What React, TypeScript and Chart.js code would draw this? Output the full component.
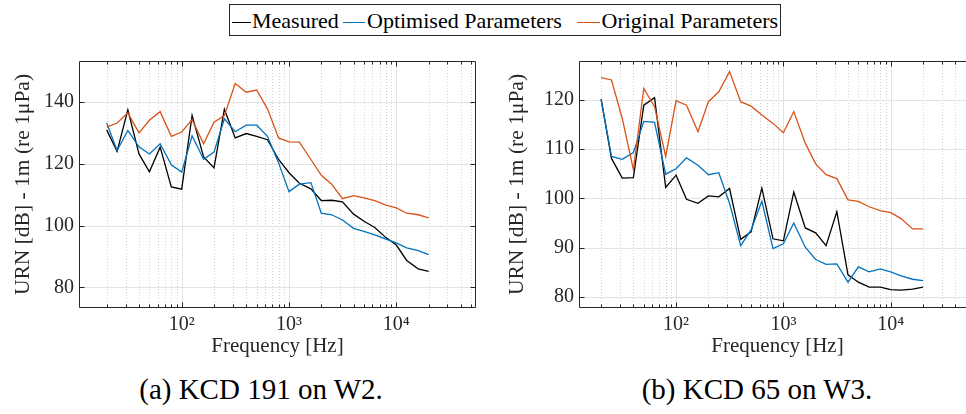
import React, { useEffect, useRef } from "react";
import { Chart, registerables } from "chart.js";

Chart.register(...registerables);

// ---------- data ----------
const frequencies = [20, 25, 31.5, 40, 50, 63, 80, 100, 125, 160, 200, 250, 315, 400, 500, 630, 800, 1000, 1250, 1600, 2000, 2500, 3150, 4000, 5000, 6300, 8000, 10000, 12500, 16000, 20000];

const measuredA = [131, 124, 137.5, 123.2, 117.4, 125.4, 112.5, 111.8, 135.7, 122.2, 118.7, 137.7, 128.4, 129.8, 128.9, 127.8, 121.4, 117.1, 113.7, 111.9, 108.1, 108.2, 107.7, 103.7, 101.4, 99.4, 96.1, 93.7, 88.7, 86, 85.2];
const optimisedA = [133.2, 124.3, 130.8, 125.5, 123.2, 126.5, 119.7, 117.3, 129.1, 121.5, 123.8, 134.6, 130.4, 132.5, 132.5, 128.9, 120.3, 111, 113.4, 113.9, 104, 103.5, 101.8, 99.1, 98.1, 97, 95.6, 94.4, 92.8, 91.9, 90.6];
const originalA = [131.9, 133.2, 136.5, 130, 134.1, 136.9, 128.9, 130.3, 134.3, 126.5, 133.5, 135.6, 146, 143.2, 143.9, 137.8, 128.4, 127.1, 127, 121.4, 116.3, 113.4, 108.7, 109.7, 109, 108.1, 106.6, 105.7, 104, 103.5, 102.5];

const measuredB = [120.1, 108.1, 104.1, 104.2, 118.9, 120.4, 102.2, 104.7, 99.8, 99, 100.5, 100.3, 102, 91.7, 93.2, 102.1, 91.8, 91.4, 101.3, 94, 93, 90.4, 97.3, 84.5, 83, 82, 82, 81.5, 81.4, 81.6, 82];
const optimisedB = [120.1, 108.5, 107.9, 109.3, 115.6, 115.4, 104.9, 106, 108.2, 106.7, 104.8, 105.2, 99, 90.4, 93.6, 99.4, 89.8, 90.8, 95, 90.1, 87.6, 86.6, 86.7, 83, 86.1, 85.1, 85.7, 85.1, 84.3, 83.6, 83.3];
const originalB = [124.5, 124, 116.2, 105.8, 122.3, 118.6, 108.5, 119.8, 118.9, 113.5, 119.6, 121.6, 125.7, 119.6, 118.7, 116.9, 115.2, 113.3, 117.6, 111.2, 107, 104.8, 104, 99.7, 99.4, 98.3, 97.5, 97.1, 95.9, 93.8, 93.8];

const yTicksA = [80, 100, 120, 140];
const yTicksB = [80, 90, 100, 110, 120];
const xMajorTicks = [100, 1000, 10000];
const xTickLabels = ["10²", "10³", "10⁴"];
const legendLabels = ["Measured", "Optimised Parameters", "Original Parameters"];
const seriesColors = ["#000000", "#0072BD", "#D95319"];
const yTitle = "URN [dB] - 1m (re 1μPa)";
const xTitle = "Frequency [Hz]";
const captions = ["(a) KCD 191 on W2.", "(b) KCD 65 on W3."];

// ---------- style ----------
const FONT = "'Liberation Serif', 'DejaVu Serif', 'Noto Serif', serif";
const AXIS = "#262626";

function minorValues(min: number, max: number): number[] {
  const out: number[] = [];
  for (let e = Math.floor(Math.log10(min)); e <= Math.ceil(Math.log10(max)); e++) {
    for (let k = 2; k <= 9; k++) {
      const v = k * Math.pow(10, e);
      if (v > min && v < max) out.push(v);
    }
  }
  return out;
}

const matlabAxes = {
  id: "matlabAxes",
  beforeDatasetsDraw(chart: any) {
    const { ctx, chartArea: a, scales } = chart;
    const xs = scales.x;
    const ys = scales.y;
    ctx.save();
    ctx.lineWidth = 1;
    ctx.strokeStyle = "#d2d2d2";
    ctx.setLineDash([1, 2]);
    for (const v of minorValues(xs.min, xs.max)) {
      const px = Math.round(xs.getPixelForValue(v)) + 0.5;
      ctx.beginPath();
      ctx.moveTo(px, a.top);
      ctx.lineTo(px, a.bottom);
      ctx.stroke();
    }
    ctx.setLineDash([]);
    ctx.strokeStyle = "#e2e2e2";
    for (const v of xMajorTicks) {
      const px = Math.round(xs.getPixelForValue(v)) + 0.5;
      ctx.beginPath();
      ctx.moveTo(px, a.top);
      ctx.lineTo(px, a.bottom);
      ctx.stroke();
    }
    for (const t of ys.ticks) {
      const py = Math.round(ys.getPixelForValue(t.value)) + 0.5;
      ctx.beginPath();
      ctx.moveTo(a.left, py);
      ctx.lineTo(a.right, py);
      ctx.stroke();
    }
    ctx.restore();
  },
  afterDatasetsDraw(chart: any) {
    const { ctx, chartArea: a, scales } = chart;
    const xs = scales.x;
    const ys = scales.y;
    const L = Math.round(a.left) + 0.5;
    const R = Math.round(a.right) - 0.5;
    const T = Math.round(a.top) + 0.5;
    const B = Math.round(a.bottom) - 0.5;
    ctx.save();
    ctx.strokeStyle = AXIS;
    ctx.lineWidth = 1;
    ctx.beginPath();
    ctx.moveTo(L, T);
    ctx.lineTo(R, T);
    ctx.lineTo(R, B);
    ctx.lineTo(L, B);
    ctx.closePath();
    ctx.stroke();
    const tick = (v: number, len: number) => {
      const px = Math.round(xs.getPixelForValue(v)) + 0.5;
      ctx.beginPath();
      ctx.moveTo(px, B);
      ctx.lineTo(px, B - len);
      ctx.moveTo(px, T);
      ctx.lineTo(px, T + len);
      ctx.stroke();
    };
    for (const v of minorValues(xs.min, xs.max)) tick(v, 3);
    for (const v of xMajorTicks) tick(v, 5);
    for (const t of ys.ticks) {
      const py = Math.round(ys.getPixelForValue(t.value)) + 0.5;
      ctx.beginPath();
      ctx.moveTo(L, py);
      ctx.lineTo(L + 5, py);
      ctx.moveTo(R, py);
      ctx.lineTo(R - 5, py);
      ctx.stroke();
    }
    ctx.restore();
  },
};

type PanelCfg = {
  series: number[][];
  yTicks: number[];
  yMin: number;
  yMax: number;
  xMin: number;
  xMax: number;
  titlePad: number;
};

function buildConfig(p: PanelCfg): any {
  return {
    type: "line",
    data: {
      datasets: p.series.map((vals, i) => ({
        label: legendLabels[i],
        data: frequencies.map((f, j) => ({ x: f, y: vals[j] })),
        borderColor: seriesColors[i],
        backgroundColor: seriesColors[i],
        borderWidth: 1.3,
        pointRadius: 0,
        tension: 0,
        fill: false,
        order: 2 - i,
      })),
    },
    options: {
      animation: false,
      responsive: false,
      maintainAspectRatio: false,
      events: [],
      layout: { padding: { top: 61, right: 14, bottom: 0, left: 0 } },
      plugins: { legend: { display: false }, tooltip: { enabled: false } },
      scales: {
        x: {
          type: "logarithmic",
          bounds: "data",
          min: p.xMin,
          max: p.xMax,
          grid: { display: false, drawTicks: false },
          border: { display: false },
          afterBuildTicks: (s: any) => {
            s.ticks = xMajorTicks.map((v) => ({ value: v, major: true }));
          },
          afterFit: (s: any) => {
            s.height = 62;
          },
          ticks: {
            autoSkip: false,
            maxRotation: 0,
            minRotation: 0,
            padding: 5,
            color: AXIS,
            font: { family: FONT, size: 20 },
            callback: (v: any) => {
              const idx = xMajorTicks.indexOf(Number(v));
              return idx >= 0 ? xTickLabels[idx] : "";
            },
          },
          title: {
            display: true,
            text: xTitle,
            color: AXIS,
            font: { family: FONT, size: 21 },
            padding: { top: 0, bottom: 11 },
          },
        },
        y: {
          type: "linear",
          bounds: "data",
          min: p.yMin,
          max: p.yMax,
          grid: { display: false, drawTicks: false },
          border: { display: false },
          afterBuildTicks: (s: any) => {
            s.ticks = p.yTicks.map((v) => ({ value: v }));
          },
          afterFit: (s: any) => {
            s.width = 79;
          },
          ticks: {
            padding: 5,
            color: AXIS,
            font: { family: FONT, size: 20 },
          },
          title: {
            display: true,
            text: yTitle,
            color: AXIS,
            font: { family: FONT, size: 21.5 },
            padding: { top: p.titlePad, bottom: 0 },
          },
        },
      },
    },
    plugins: [matlabAxes],
  };
}

function Panel(props: { cfg: PanelCfg; left: number }) {
  const ref = useRef<HTMLCanvasElement | null>(null);
  useEffect(() => {
    if (!ref.current) return;
    const chart = new Chart(ref.current, buildConfig(props.cfg));
    return () => chart.destroy();
  }, []);
  return (
    <canvas
      ref={ref}
      width={490}
      height={370}
      style={{ position: "absolute", left: props.left, top: 0, width: 490, height: 370 }}
    />
  );
}

const legendItems = [
  { lineLeft: 231.5, lineWidth: 19, textLeft: 252 },
  { lineLeft: 343, lineWidth: 22, textLeft: 367 },
  { lineLeft: 577, lineWidth: 23, textLeft: 601.5 },
];

export default function App() {
  const panelA: PanelCfg = {
    series: [measuredA, optimisedA, originalA],
    yTicks: yTicksA,
    yMin: 73.3,
    yMax: 153.3,
    xMin: 11.04,
    xMax: 55300,
    titlePad: 10.7,
  };
  const panelB: PanelCfg = {
    series: [measuredB, optimisedB, originalB],
    yTicks: yTicksB,
    yMin: 77.77,
    yMax: 127.85,
    xMin: 12.45,
    xMax: 62400,
    titlePad: 4.9,
  };
  return (
    <div
      style={{
        position: "fixed",
        left: 0,
        top: 0,
        width: 966,
        height: 414,
        overflow: "hidden",
        background: "#ffffff",
        fontFamily: FONT,
      }}
    >
      <Panel cfg={panelA} left={0} />
      <Panel cfg={panelB} left={500} />
      <div
        style={{
          position: "absolute",
          left: 229,
          top: 3.5,
          width: 552,
          height: 32,
          border: `1px solid ${AXIS}`,
          boxSizing: "border-box",
          background: "#fff",
        }}
      />
      {legendItems.map((it, i) => (
        <React.Fragment key={i}>
          <div
            style={{
              position: "absolute",
              left: it.lineLeft,
              top: 22,
              width: it.lineWidth,
              height: 1.3,
              background: seriesColors[i],
            }}
          />
          <span
            style={{
              position: "absolute",
              left: it.textLeft,
              top: 9.9,
              fontSize: 22,
              lineHeight: "22px",
              whiteSpace: "nowrap",
              color: "#000",
            }}
          >
            {legendLabels[i]}
          </span>
        </React.Fragment>
      ))}
      {captions.map((c, i) => (
        <div
          key={c}
          style={{
            position: "absolute",
            left: (i === 0 ? 261 : 757) - 200,
            width: 400,
            top: 374.7,
            textAlign: "center",
            fontSize: 29,
            lineHeight: "29px",
            whiteSpace: "nowrap",
            color: "#000",
          }}
        >
          {c}
        </div>
      ))}
    </div>
  );
}
